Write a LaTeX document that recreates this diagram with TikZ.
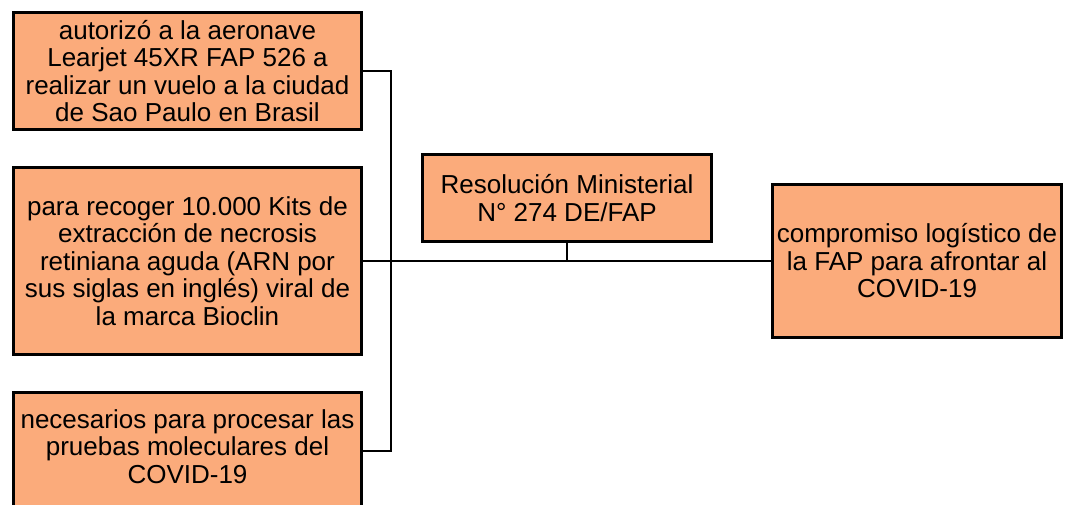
\documentclass[tikz,border=0pt]{standalone}
\usepackage{fontspec}
\setmainfont{Liberation Sans}
\usetikzlibrary{positioning}
\definecolor{salmon}{RGB}{251,171,123}

\begin{document}
\begin{tikzpicture}[y=1pt, x=1pt, inner sep=0pt, outer sep=0pt,
box/.style={draw, line width=3pt, fill=salmon, align=center, font=\fontsize{26}{27.5}\selectfont},
leftbox/.style={box, minimum width=348, minimum height=117},
link/.style={line width=2.2pt}]
\useasboundingbox (0,0) rectangle (1075,504);
\node[leftbox, minimum height=187](L2) at (187.5,243) {para recoger 10.000 Kits de\\extracción de necrosis\\retiniana aguda (ARN por\\sus siglas en inglés) viral de\\la marca Bioclin};
\node[leftbox](L1)[above = 38 of L2] {autorizó a la aeronave\\Learjet 45XR FAP 526 a\\realizar un vuelo a la ciudad\\de Sao Paulo en Brasil};
\node[leftbox](L3)[below = 38 of L2] {necesarios para procesar las\\pruebas moleculares del\\COVID-19\\[-18pt]\mbox{}};
\node[box, minimum width=289.5, minimum height=87](RM) at (567,306) {Resolución Ministerial\\N° 274 DE/FAP};
\node[box, minimum width=289.5, minimum height=153.5](CL) at (917,243) {compromiso logístico de\\la FAP para afrontar al\\COVID-19};
\coordinate (J) at (391,243);
\draw[link] (L1.east) -| (J) |- (L3.east);
\draw[link] (L2.east) -- (CL.west);
\draw[link] (RM.south) -- (RM.south |- CL.west);
\end{tikzpicture}
\end{document}
